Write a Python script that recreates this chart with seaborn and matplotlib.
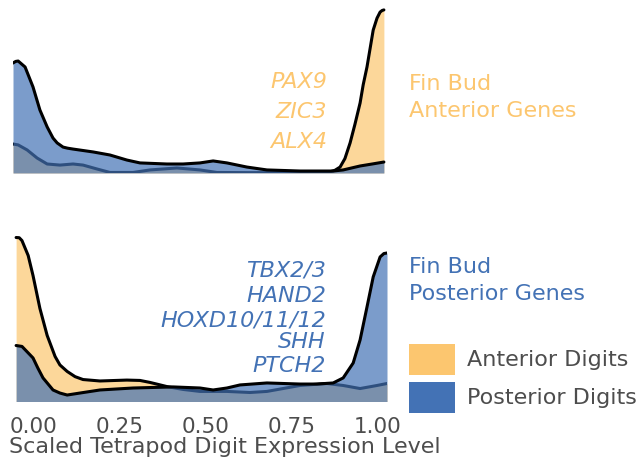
import matplotlib
matplotlib.use("Agg")
import matplotlib.pyplot as plt
from matplotlib.patches import Rectangle
import seaborn as sns
import pandas as pd

# ---------------- data ----------------
# Top panel: fin bud anterior genes
top_post_x = [-0.058, -0.050, -0.043, -0.023, 0.000, 0.020, 0.041, 0.058, 0.070, 0.087,
              0.100, 0.116, 0.174, 0.223, 0.272, 0.310, 0.388, 0.435, 0.484, 0.522,
              0.562, 0.620, 0.678, 0.774, 0.870, 0.899, 0.948, 0.983, 1.017]
top_post_d = [6.11, 6.20, 6.22, 5.89, 4.78, 3.50, 2.56, 1.94, 1.67, 1.44,
              1.38, 1.33, 1.17, 1.00, 0.72, 0.56, 0.50, 0.50, 0.56, 0.67,
              0.56, 0.33, 0.17, 0.11, 0.11, 0.17, 0.39, 0.50, 0.61]
top_ant_x = [-0.058, -0.043, -0.017, 0.012, 0.041, 0.078, 0.116, 0.145, 0.186, 0.223,
             0.290, 0.339, 0.417, 0.484, 0.533, 0.629, 0.774, 0.861, 0.875, 0.890,
             0.904, 0.919, 0.933, 0.948, 0.957, 0.968, 0.986, 0.997, 1.006, 1.012, 1.017]
top_ant_d = [1.61, 1.56, 1.28, 0.83, 0.50, 0.44, 0.50, 0.44, 0.22, 0.03,
             0.03, 0.17, 0.28, 0.17, 0.03, 0.02, 0.03, 0.07, 0.15, 0.33,
             0.80, 1.67, 2.70, 3.89, 4.90, 5.89, 7.94, 8.60, 8.94, 9.03, 9.06]

# Bottom panel: fin bud posterior genes
bot_ant_x = [-0.049, -0.040, -0.032, -0.014, 0.000, 0.020, 0.041, 0.064, 0.078, 0.099,
             0.122, 0.145, 0.194, 0.272, 0.310, 0.339, 0.388, 0.435, 0.484, 0.522,
             0.562, 0.629, 0.678, 0.774, 0.852, 0.899, 0.948, 0.997, 1.026]
bot_ant_d = [9.11, 9.10, 8.94, 8.11, 7.00, 5.17, 3.67, 2.50, 2.03, 1.67,
             1.38, 1.22, 1.14, 1.19, 1.17, 1.06, 0.83, 0.67, 0.56, 0.56,
             0.56, 0.50, 0.56, 0.89, 1.00, 0.89, 0.72, 0.89, 1.00]
bot_post_x = [-0.049, -0.032, 0.000, 0.014, 0.029, 0.058, 0.078, 0.099, 0.136, 0.194,
              0.290, 0.406, 0.484, 0.522, 0.562, 0.600, 0.678, 0.774, 0.823, 0.870,
              0.899, 0.928, 0.948, 0.968, 0.986, 1.006, 1.017, 1.026]
bot_post_d = [3.11, 3.06, 2.42, 1.86, 1.31, 0.64, 0.47, 0.36, 0.47, 0.64,
              0.75, 0.81, 0.75, 0.64, 0.75, 0.92, 1.03, 0.97, 0.97, 1.03,
              1.31, 2.14, 3.42, 5.25, 6.92, 8.03, 8.22, 8.25]

top_genes = ["PAX9", "ZIC3", "ALX4"]
bot_genes = ["TBX2/3", "HAND2", "HOXD10/11/12", "SHH", "PTCH2"]
panel_titles = ["Fin Bud\nAnterior Genes", "Fin Bud\nPosterior Genes"]
legend_labels = ["Anterior Digits", "Posterior Digits"]
tick_vals = [0.0, 0.25, 0.5, 0.75, 1.0]
tick_labels = ["0.00", "0.25", "0.50", "0.75", "1.00"]
xlabel = "Scaled Tetrapod Digit Expression Level"

# ---------------- style ----------------
sns.set_theme(style="white")
plt.rcParams["font.family"] = ["DejaVu Sans"]

ORANGE = "#FCC66F"
BLUE = "#4372B5"
GREY = "#4D4D4D"
ALPHA = 0.7
LW = 2.2

W, H = 642, 461
fig = plt.figure(figsize=(W / 100, H / 100), dpi=100)

def fx(px):
    return px / W

def fy(py):
    return 1 - py / H

xlim = (-0.058, 1.026)
ax_left, ax_right = 13, 387

def panel(bottom_px, height_px):
    ax = fig.add_axes([fx(ax_left), fy(bottom_px), (ax_right - ax_left) / W, height_px / H])
    ax.set_xlim(*xlim)
    ax.set_ylim(0, height_px / 18)
    for s in ax.spines.values():
        s.set_visible(False)
    ax.set_yticks([])
    ax.grid(False)
    return ax

def density(ax, x, d, color, z):
    df = pd.DataFrame({"x": x, "d": d})
    ax.fill_between(df["x"], 0, df["d"], color=color, alpha=ALPHA, linewidth=0, zorder=z)
    sns.lineplot(data=df, x="x", y="d", ax=ax, color="black", linewidth=LW,
                 sort=False, estimator=None, zorder=z + 1)

# top panel
ax1 = panel(173, 171)
density(ax1, top_ant_x, top_ant_d, ORANGE, 1)
density(ax1, top_post_x, top_post_d, BLUE, 3)
ax1.set_xticks([])
ax1.set_xlabel("")
ax1.set_ylabel("")

# bottom panel
ax2 = panel(401.5, 173.5)
density(ax2, bot_ant_x, bot_ant_d, ORANGE, 1)
density(ax2, bot_post_x, bot_post_d, BLUE, 3)
ax2.set_xticks(tick_vals)
ax2.set_xticklabels(tick_labels, fontsize=15.5, color=GREY)
ax2.tick_params(axis="x", length=0, pad=11)
ax2.set_xlabel("")
ax2.set_ylabel("")

# x-axis title
fig.text(fx(9), fy(453), xlabel, fontsize=16, color=GREY, ha="left", va="baseline")

# gene labels
for g, b in zip(top_genes, [88.5, 118, 147.5]):
    fig.text(fx(327), fy(b), g, fontsize=16, color=ORANGE, style="italic",
             ha="right", va="baseline")
for g, b in zip(bot_genes, [276, 302.3, 326.7, 348.3, 371.7]):
    fig.text(fx(326), fy(b), g, fontsize=16, color=BLUE, style="italic",
             ha="right", va="baseline")

# panel titles
for t, b, c in zip(panel_titles, [90, 273], [ORANGE, BLUE]):
    l1, l2 = t.split("\n")
    fig.text(fx(409), fy(b), l1, fontsize=16, color=c, ha="left", va="baseline")
    fig.text(fx(409), fy(b + 27), l2, fontsize=16, color=c, ha="left", va="baseline")

# legend
for lab, top, c, base in zip(legend_labels, [344, 382], [ORANGE, BLUE], [366, 404]):
    fig.add_artist(Rectangle((fx(409), fy(top + 31)), 46 / W, 31 / H,
                             transform=fig.transFigure, facecolor=c, edgecolor="none"))
    fig.text(fx(467), fy(base), lab, fontsize=16, color=GREY, ha="left", va="baseline")

fig.savefig("out.png", dpi=100)
